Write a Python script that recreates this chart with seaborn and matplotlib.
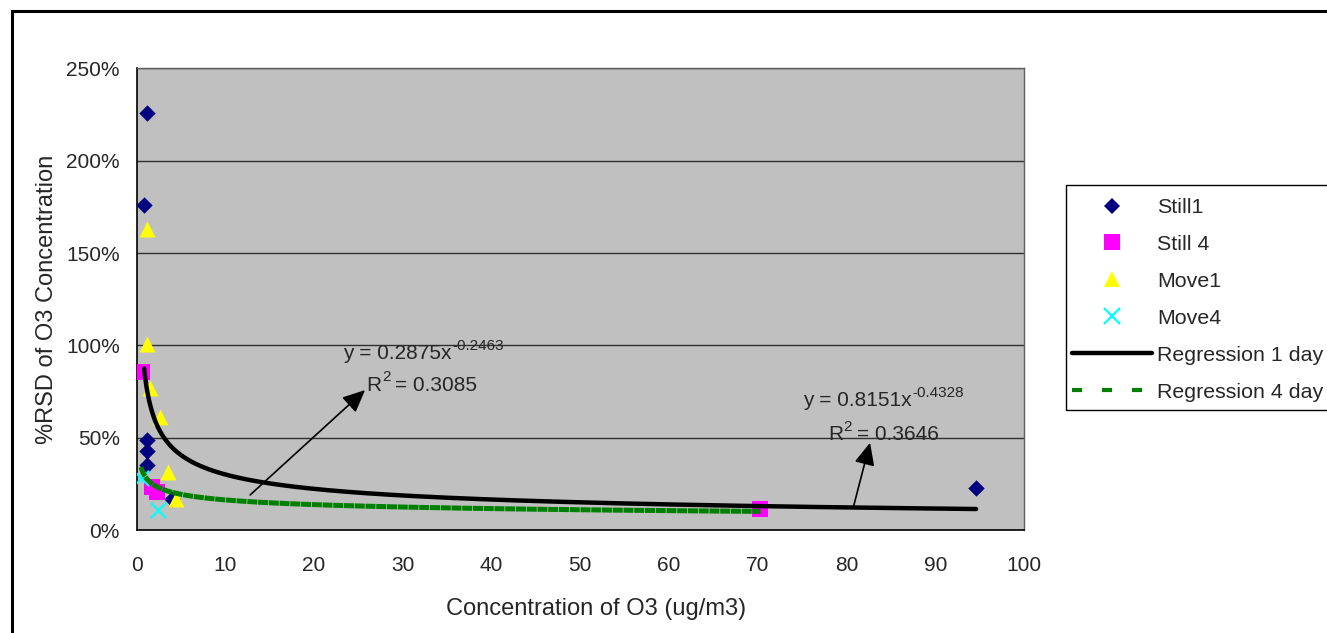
import numpy as np
import pandas as pd
import matplotlib
matplotlib.use("Agg")
import matplotlib.pyplot as plt
import seaborn as sns
from matplotlib.lines import Line2D
from matplotlib.patches import Rectangle
from matplotlib.ticker import PercentFormatter, MultipleLocator

# Measured ozone concentration (ug/m3) vs. relative standard deviation (fraction)
still1_x = [1.15, 0.85, 1.15, 1.15, 1.2, 3.97, 94.6]
still1_y = [2.257, 1.76, 0.488, 0.43, 0.352, 0.168, 0.229]
still4_x = [0.6, 1.75, 2.3, 70.3]
still4_y = [0.858, 0.233, 0.206, 0.114]
move1_x = [1.2, 1.2, 1.5, 2.65, 3.5, 4.5]
move1_y = [1.63, 1.01, 0.768, 0.614, 0.316, 0.168]
move4_x = [0.5, 2.45]
move4_y = [0.28, 0.108]

# Power-law regressions y = a * x^b
reg1_a, reg1_b, reg1_r2 = 0.8151, -0.4328, 0.3646
reg4_a, reg4_b, reg4_r2 = 0.2875, -0.2463, 0.3085

sns.set_style("white")
plt.rcParams["font.family"] = ["Liberation Sans", "DejaVu Sans"]
plt.rcParams["font.size"] = 15

fig = plt.figure(figsize=(13.27, 6.33), dpi=100)
ax = fig.add_axes([0.1029, 0.1627, 0.7717 - 0.1029, 0.8918 - 0.1627])
ax.set_facecolor("#C0C0C0")

series = [
    ("Still1", still1_x, still1_y, "D", "#000080", 70),
    ("Still 4", still4_x, still4_y, "s", "#FF00FF", 125),
    ("Move1", move1_x, move1_y, "^", "#FFFF00", 133),
    ("Move4", move4_x, move4_y, "x", "#00FFFF", 121),
]
handles = []
for name, xs, ys, mk, col, size in series:
    df = pd.DataFrame({"x": xs, "y": ys})
    if mk == "x":
        sns.scatterplot(data=df, x="x", y="y", ax=ax, marker=mk, color=col,
                        s=size, linewidth=1.6, zorder=3, legend=False)
        handles.append(Line2D([], [], marker=mk, color=col, linestyle="",
                              markersize=np.sqrt(size), markeredgewidth=1.6,
                              label=name))
    else:
        sns.scatterplot(data=df, x="x", y="y", ax=ax, marker=mk, color=col,
                        s=size, linewidth=0, edgecolor=col, zorder=3,
                        legend=False)
        handles.append(Line2D([], [], marker=mk, color=col, linestyle="",
                              markersize=np.sqrt(size), markeredgewidth=0,
                              label=name))

# Regression curves over each group's concentration range
x1 = np.linspace(min(still1_x + move1_x), max(still1_x + move1_x), 600)
x1 = np.unique(np.concatenate([np.geomspace(x1[0], 5, 200), x1]))
reg1 = pd.DataFrame({"x": x1, "y": reg1_a * x1 ** reg1_b})
x4 = np.linspace(min(still4_x + move4_x), max(still4_x + move4_x), 600)
x4 = np.unique(np.concatenate([np.geomspace(x4[0], 5, 200), x4]))
reg4 = pd.DataFrame({"x": x4, "y": reg4_a * x4 ** reg4_b})

sns.lineplot(data=reg4, x="x", y="y", ax=ax, color="#008000", lw=3.6,
             linestyle=(0, (2.0, 0.15)), estimator=None, sort=True, zorder=4)
sns.lineplot(data=reg1, x="x", y="y", ax=ax, color="black", lw=3.2,
             estimator=None, sort=True, zorder=5, solid_capstyle="round")

handles.append(Line2D([], [], color="black", lw=3.2, label="Regression 1 day"))
handles.append(Line2D([], [], color="#008000", lw=3.0,
                      linestyle=(0, (2.4, 4.8)), label="Regression 4 day"))

ax.set_xlim(0, 100)
ax.set_ylim(0, 2.5)
ax.xaxis.set_major_locator(MultipleLocator(10))
ax.yaxis.set_major_locator(MultipleLocator(0.5))
ax.yaxis.set_major_formatter(PercentFormatter(1.0, decimals=0))
ax.grid(axis="y", color="#303030", lw=1.0)
ax.grid(axis="x", visible=False)
ax.set_axisbelow(True)
ax.tick_params(axis="both", direction="out", length=5, width=1,
               color="#303030", labelsize=15)
ax.tick_params(axis="x", pad=14)
ax.tick_params(axis="y", pad=7)
for side in ["left", "bottom"]:
    ax.spines[side].set_color("black")
    ax.spines[side].set_linewidth(1.2)
for side in ["top", "right"]:
    ax.spines[side].set_color("#606060")
    ax.spines[side].set_linewidth(1.0)

ax.set_xlabel("Concentration of O3 (ug/m3)", fontsize=17, labelpad=16)
ax.xaxis.label.set_x(0.518)
ax.set_ylabel("%RSD of O3 Concentration", fontsize=17, labelpad=6)

# Equation labels with arrows to the fitted curves
arrow = dict(arrowstyle="-|>,head_length=0.55,head_width=0.25",
             color="black", lw=1.2, shrinkA=0, shrinkB=0, mutation_scale=25)
ax.annotate("", xy=(25.75, 0.758), xytext=(12.8, 0.190), arrowprops=arrow,
            zorder=6)
ax.annotate("", xy=(82.65, 0.473), xytext=(80.8, 0.130), arrowprops=arrow,
            zorder=6)


def power_label(x, y, a, b):
    base = ax.text(x, y, "y = %.4fx" % a, fontsize=15, ha="left",
                   va="center", zorder=6)
    ax.annotate("%.4f" % b, xy=(1, 0.72), xycoords=base, xytext=(0.5, 0),
                textcoords="offset points", fontsize=11, ha="left",
                va="baseline", zorder=6)


def r2_label(x, y, r2):
    base = ax.text(x, y, "R", fontsize=15, ha="left", va="center", zorder=6)
    ax.annotate("2", xy=(1, 0.72), xycoords=base, xytext=(0.5, 0),
                textcoords="offset points", fontsize=11, ha="left",
                va="baseline", zorder=6)
    ax.annotate("= %.4f" % r2, xy=(1, 0), xycoords=base, xytext=(10, 0),
                textcoords="offset points", fontsize=15, ha="left",
                va="bottom", zorder=6)


power_label(23.3, 0.955, reg4_a, reg4_b)
r2_label(25.9, 0.785, reg4_r2)
power_label(75.1, 0.70, reg1_a, reg1_b)
r2_label(77.9, 0.515, reg1_r2)

# Legend box and entries
fig.patches.append(Rectangle((1066 / 1327, 1 - 410 / 633), 0.3,
                             (410 - 185) / 633, transform=fig.transFigure,
                             fill=False, edgecolor="black", lw=1.0,
                             clip_on=False))
leg = fig.legend(handles=handles, loc="upper left",
                 bbox_to_anchor=(1072 / 1327, 1 - 198.0 / 633),
                 bbox_transform=fig.transFigure, frameon=False,
                 fontsize=15.4, handlelength=3.75, handletextpad=0.22,
                 labelspacing=0.84, borderpad=0, borderaxespad=0,
                 numpoints=1)

# Chart frame
fig.patches.append(Rectangle((12 / 1327, -0.05), 1.1, (1 - 11 / 633) + 0.05,
                             transform=fig.transFigure, fill=False,
                             edgecolor="black", lw=2.2, clip_on=False))

fig.savefig("out.png", dpi=100, facecolor="white")
